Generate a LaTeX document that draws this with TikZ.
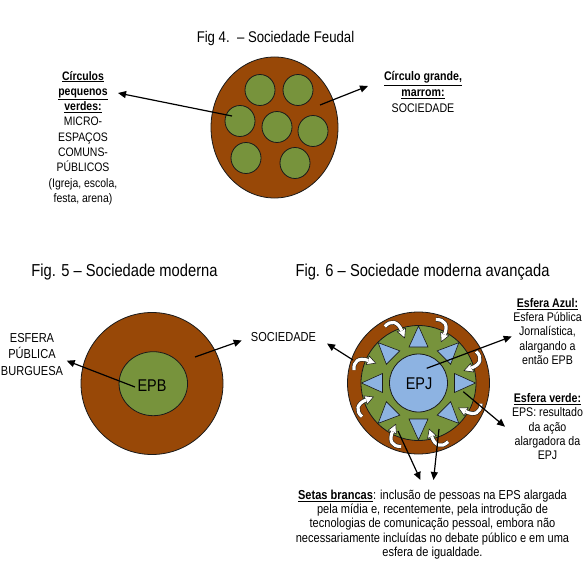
\documentclass[tikz,border=0pt]{standalone}
\usepackage{fontspec}
\setmainfont{Liberation Sans}[FakeStretch=0.85]
\usetikzlibrary{arrows.meta,shapes.geometric}
\definecolor{brownfill}{HTML}{984807}
\definecolor{greenfill}{HTML}{77933C}
\definecolor{bluefill}{HTML}{8DB3E2}
\definecolor{outl}{HTML}{1A1A1A}
\tikzset{
  brownc/.style={ellipse, draw=outl, line width=0.8pt, fill=brownfill, inner sep=0pt},
  greenc/.style={ellipse, draw=outl, line width=0.8pt, fill=greenfill, inner sep=0pt},
  bluec/.style={ellipse, draw=outl, line width=0.8pt, fill=bluefill, inner sep=0pt},
  arr/.style={draw=black, line width=1.2pt, -{Triangle[length=8pt,width=7pt]}},
  lbl/.style={align=center, inner sep=0pt, font=\fontsize{12.3}{15.3}\selectfont},
  lblb/.style={align=center, inner sep=0pt, font=\fontsize{13}{16.4}\selectfont},
  lblc/.style={align=center, inner sep=0pt, font=\fontsize{12.5}{14.2}\selectfont},
  ttl/.style={anchor=base, inner sep=0pt, font=\fontsize{17.3}{20}\selectfont},
  bigtxt/.style={inner sep=0pt, font=\fontsize{17}{20}\selectfont},
  tri/.style={fill=bluefill, draw=outl, line width=0.6pt},
  warrow/.pic={
    \filldraw[fill=white, draw=outl, line width=0.55pt] (47,4) -- (55.5,-0.5) -- (55.5,8.5) -- cycle;
    \draw[draw=outl, line width=0.55pt, double=white, double distance=3.2pt]
      (65,-10) .. controls (69,-2) and (65,4) .. (54.8,4);
  }
}
\begin{document}
\begin{tikzpicture}[x=1pt, y=-1pt]
\useasboundingbox (0,0) rectangle (583,572);
\fill[white] (0,0) rectangle (583,572);

% ---------------- Fig 4 ----------------
\node[ttl, font=\fontsize{15.5}{18}\selectfont] (t4) at (275.5,42.3) {Fig 4.\ \ – Sociedade Feudal};
\node[brownc, minimum width=127pt, minimum height=141pt] (soc4) at (274.5,127.5) {};
\node[greenc, minimum width=30pt, minimum height=31pt] (m1) at (260,90) {};
\node[greenc, minimum width=30pt, minimum height=31pt] (m2) at (298,90) {};
\node[greenc, minimum width=30pt, minimum height=31pt] (m3) at (240,121) {};
\node[greenc, minimum width=30pt, minimum height=31pt] (m4) at (277,127) {};
\node[greenc, minimum width=30pt, minimum height=31pt] (m5) at (313,131) {};
\node[greenc, minimum width=30pt, minimum height=31pt] (m6) at (246,158) {};
\node[greenc, minimum width=30pt, minimum height=31pt] (m7) at (295,163) {};
\coordinate (s4l) at (232,116);
\coordinate (e4l) at (118,93);
\coordinate (s4r) at (320,105);
\coordinate (e4r) at (368,86);
\draw[arr] (s4l) -- (e4l);
\draw[arr] (s4r) -- (e4r);
\node[lbl] (lab4l) at (83,138) {\underline{\textbf{Círculos}}\\\underline{\textbf{pequenos}}\\\underline{\textbf{verdes:}}\\MICRO-\\ESPAÇOS\\COMUNS-\\PÚBLICOS\\(Igreja, escola,\\festa, arena)};
\node[lbl, font=\fontsize{12.5}{15.8}\selectfont] (lab4r) at (423,92) {\underline{\textbf{Círculo grande,}}\\\underline{\textbf{marrom:}}\\SOCIEDADE};

% ---------------- Fig 5 ----------------
\node[ttl] (t5) at (124.5,276.7) {Fig. 5 – Sociedade moderna};
\node[brownc, minimum size=142pt] (soc5) at (152,383.5) {};
\node[greenc, minimum width=68.5pt, minimum height=64pt] (epb) at (153.3,383.7) {};
\node[bigtxt] (epbt) at (152,386) {EPB};
\coordinate (s5l) at (135,387);
\coordinate (e5l) at (66.7,360.7);
\coordinate (s5r) at (195,357);
\coordinate (e5r) at (241.7,340.5);
\draw[arr] (s5l) -- (e5l);
\draw[arr] (s5r) -- (e5r);
\node[lblb] (lab5l) at (32,354.5) {ESFERA\\PÚBLICA\\BURGUESA};
\node[lblb] (lab5r) at (283.5,337) {SOCIEDADE};

% ---------------- Fig 6 ----------------
\node[ttl] (t6) at (422.5,276) {Fig. 6 – Sociedade moderna avançada};
\coordinate (c6) at (418.5,383);
\node[brownc, minimum size=142pt] (soc6) at (c6) {};
\node[greenc, minimum size=115pt] (eps) at (c6) {};
\foreach \a in {0,45,...,315}{
  \begin{scope}[shift={(418.5,383)}, rotate=\a]
    \filldraw[tri] (57,0) -- (36,-9.5) -- (36,9.5) -- cycle;
  \end{scope}
}
\node[bluec, minimum size=58pt] (epj) at (c6) {};
\node[bigtxt] (epjt) at (419,384) {EPJ};
\foreach \a in {27,72,114,158,200,248,294,340}{
  \pic[rotate=-\a] at (c6) {warrow};
}
\coordinate (s6s) at (353,360);
\coordinate (e6s) at (327,343.5);
\coordinate (s6a) at (426.7,368.3);
\coordinate (e6a) at (511.7,336.5);
\coordinate (s6v) at (463.3,391.7);
\coordinate (e6v) at (505,426.7);
\coordinate (s6b1) at (398,431);
\coordinate (e6b1) at (420.5,480);
\coordinate (s6b2) at (439,429);
\coordinate (e6b2) at (433.5,480);
\draw[arr] (s6s) -- (e6s);
\draw[arr] (s6a) -- (e6a);
\draw[arr] (s6v) -- (e6v);
\draw[arr] (s6b1) -- (e6b1);
\draw[arr] (s6b2) -- (e6b2);
\node[lblc] (azul) at (547.5,331.5) {\underline{\textbf{Esfera Azul:}}\\Esfera Pública\\Jornalística,\\alargando a\\então EPB};
\node[lblc] (verde) at (547.5,426.7) {\underline{\textbf{Esfera verde:}}\\EPS: resultado\\da ação\\alargadora da\\EPJ};
\node[lblc, font=\fontsize{13}{14.25}\selectfont] (setas) at (432.5,524.5) {\underline{\textbf{Setas brancas}}: inclusão de pessoas na EPS alargada\\pela mídia e, recentemente, pela introdução de\\tecnologias de comunicação pessoal, embora não\\necessariamente incluídas no debate público e em uma\\esfera de igualdade.};
\end{tikzpicture}
\end{document}
